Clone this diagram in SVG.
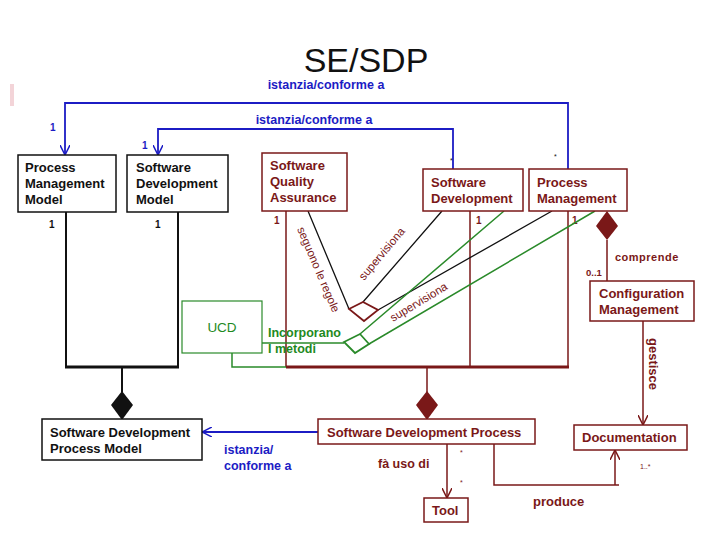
<svg xmlns="http://www.w3.org/2000/svg" width="720" height="540" viewBox="0 0 720 540">
<style>
text{font-family:"Liberation Sans",Arial,sans-serif}
.t{font-size:13px;font-weight:bold}
.blk{fill:#111}
.red{fill:#7a1818}
.blu{fill:#1c1cc4}
.grn{fill:#1e8a1e}
.bb{fill:#fff;stroke:#111;stroke-width:1.5}
.rb{fill:#fff;stroke:#7a1818;stroke-width:1.5}
.gb{fill:#fff;stroke:#2a8a2a;stroke-width:1.2}
.lb{fill:none;stroke:#111;stroke-width:2}
.lr{fill:none;stroke:#7a1818;stroke-width:1.5}
.lu{fill:none;stroke:#1c1cc4;stroke-width:1.8}
.lg{fill:none;stroke:#2a8a2a;stroke-width:1.5}
.sm{font-size:10px;font-weight:bold}
.tiny{font-size:7px}
</style>
<defs>
<marker id="au" viewBox="0 0 10 10" refX="10" refY="5" markerWidth="10" markerHeight="10" markerUnits="userSpaceOnUse" orient="auto"><path d="M0,0 L10,5 L0,10" fill="none" stroke="#1c1cc4" stroke-width="1.5"/></marker>
<marker id="ar" viewBox="0 0 10 10" refX="10" refY="5" markerWidth="10" markerHeight="10" markerUnits="userSpaceOnUse" orient="auto"><path d="M0,0 L10,5 L0,10" fill="none" stroke="#7a1818" stroke-width="1.5"/></marker>
</defs>
<rect x="0" y="0" width="720" height="540" fill="#fff"/>
<rect x="10" y="84" width="4" height="22" fill="#f3d4d8"/>
<text x="366" y="72" text-anchor="middle" font-size="34" fill="#111">SE/SDP</text>

<g id="connectors">
<path class="lu" d="M568,169 V103 H65 V155" marker-end="url(#au)"/>
<text x="326" y="89" text-anchor="middle" class="blu" font-size="12.5" font-weight="bold">istanzia/conforme a</text>
<text x="50" y="131" class="blu sm">1</text>
<path class="lu" d="M453,169 V129 H158 V155" marker-end="url(#au)"/>
<text x="314" y="124" text-anchor="middle" class="blu" font-size="12.5" font-weight="bold">istanzia/conforme a</text>
<text x="142" y="149" class="blu sm">1</text>
<text x="450" y="163" class="tiny blk">*</text>
<text x="554" y="159" class="tiny blk">*</text>

<path class="lb" d="M66,212 V367 M178,212 V367 M122,367 V392"/>
<path d="M65,367 H179" stroke="#111" stroke-width="3"/>
<path d="M122,391 L133,405 L122,420 L111,405 Z" fill="#111"/>
<text x="49" y="228" class="blk sm">1</text>
<text x="155" y="228" class="blk sm">1</text>

<path class="lr" d="M286,211 V367 M470,211 V367 M568,211 V367 M427,367 V392"/>
<path d="M286,367 H569" stroke="#7a1818" stroke-width="3"/>
<path d="M427,391 L438,405 L427,420 L416,405 Z" fill="#7a1818"/>
<text x="274" y="224" class="red sm">1</text>
<text x="476" y="224" class="red sm">1</text>
<text x="572" y="224" class="red sm">1</text>

<path d="M607,211 L618,226 L607,240 L596,226 Z" fill="#7a1818"/>
<path class="lr" d="M607,240 V281"/>
<text x="615" y="261" class="red" font-size="11" font-weight="bold" letter-spacing="0.5">comprende</text>
<text x="586" y="276" class="red" font-size="9.5" font-weight="bold">0..1</text>

<path class="lr" d="M643,321 V425" marker-end="url(#ar)"/>
<text transform="translate(649,338) rotate(90)" class="red" font-size="13" font-weight="bold">gestisce</text>

<path class="lr" d="M447,444 V498" marker-end="url(#ar)"/>
<text x="378" y="468" class="red" font-size="12.5" font-weight="bold">fà uso di</text>
<text x="460" y="455" class="tiny red">*</text>
<text x="460" y="485" class="tiny red">*</text>

<path class="lr" d="M494,444 V485 H619"/>
<path class="lr" d="M615,485 V450" marker-end="url(#ar)"/>
<text x="533" y="506" class="red" font-size="13" font-weight="bold">produce</text>
<text x="640" y="469" class="tiny red">1..*</text>

<path class="lu" d="M318,432 H202" marker-end="url(#au)"/>
<text x="224" y="454" class="blu" font-size="12.5" font-weight="bold">istanzia/</text>
<text x="224" y="470" class="blu" font-size="12.5" font-weight="bold">conforme a</text>

<path d="M308,211 L349,309 M442,211 L363,302 M552,211 L378,310" fill="none" stroke="#111" stroke-width="1.3"/>
<path d="M349,309 L363,302 L378,310 L364,321 Z" fill="#fff" stroke="#7a1818" stroke-width="1.8"/>
<text transform="translate(297,229) rotate(67)" class="red" font-size="11.5">seguono le regole</text>
<text transform="translate(364,281) rotate(-50)" class="red" font-size="11.5">supervisiona</text>

<path class="lg" d="M360,334 L504,211 M369,344 L595,211"/>
<path class="lg" d="M262,343 H344"/>
<path class="lg" d="M232,353 V367 H286"/>
<path d="M344,342 L360,334 L369,344 L355,353 Z" fill="#fff" stroke="#2a8a2a" stroke-width="1.8"/>
<text transform="translate(393,322) rotate(-31)" class="red" font-size="11.5">supervisiona</text>
<text x="268" y="337" class="grn" font-size="12.5" font-weight="bold">Incorporano</text>
<text x="268" y="353" class="grn" font-size="12.5" font-weight="bold">I metodi</text>
</g>

<g id="pmm"><rect class="bb" x="18" y="155" width="98" height="57"/>
<text class="t blk" x="25" y="172">Process</text><text class="t blk" x="25" y="188">Management</text><text class="t blk" x="25" y="204">Model</text></g>
<g id="sdm"><rect class="bb" x="127" y="155" width="101" height="57"/>
<text class="t blk" x="136" y="172">Software</text><text class="t blk" x="136" y="188">Development</text><text class="t blk" x="136" y="204">Model</text></g>
<g id="sqa"><rect class="rb" x="262" y="153" width="85" height="58"/>
<text class="t red" x="270" y="170">Software</text><text class="t red" x="270" y="186">Quality</text><text class="t red" x="270" y="202">Assurance</text></g>
<g id="sd"><rect class="rb" x="423" y="169" width="100" height="42"/>
<text class="t red" x="431" y="187">Software</text><text class="t red" x="431" y="203">Development</text></g>
<g id="pm"><rect class="rb" x="529" y="169" width="98" height="42"/>
<text class="t red" x="537" y="187">Process</text><text class="t red" x="537" y="203">Management</text></g>
<g id="cm"><rect class="rb" x="590" y="281" width="104" height="40"/>
<text class="t red" x="599" y="298">Configuration</text><text class="t red" x="599" y="314">Management</text></g>
<g id="ucd"><rect class="gb" x="182" y="301" width="80" height="52"/>
<text class="grn" x="222" y="332" text-anchor="middle" font-size="13.5">UCD</text></g>
<g id="sdpm"><rect class="bb" x="42" y="419" width="160" height="41"/>
<text class="t blk" x="50" y="437">Software Development</text><text class="t blk" x="50" y="453">Process Model</text></g>
<g id="sdp"><rect class="rb" x="318" y="419" width="217" height="25"/>
<text class="t red" x="327" y="437">Software Development Process</text></g>
<g id="doc"><rect class="rb" x="574" y="425" width="113" height="25"/>
<text class="t red" x="582" y="442">Documentation</text></g>
<g id="tool"><rect class="rb" x="424" y="498" width="44" height="24"/>
<text class="t red" x="432" y="515">Tool</text></g>
</svg>
